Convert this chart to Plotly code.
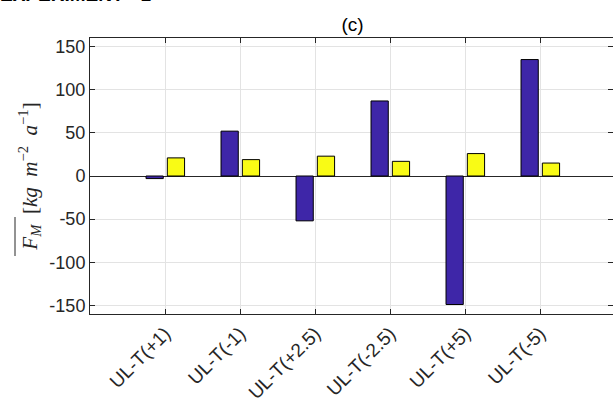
import plotly.graph_objects as go

categories = ["UL-T(+1)", "UL-T(-1)", "UL-T(+2.5)", "UL-T(-2.5)", "UL-T(+5)", "UL-T(-5)"]
series_a = [-3, 52, -52, 87, -149, 135]
series_b = [21, 19, 23, 17, 26, 15]
y_ticks = [-150, -100, -50, 0, 50, 100, 150]
y_tick_labels = [str(v) for v in y_ticks]

x_pos = list(range(1, len(categories) + 1))

W, H = 613, 406
L, R, T, B = 90, 0, 38, 92
pw, ph = W - L - R, H - T - B

fig = go.Figure()
fig.add_trace(go.Bar(x=x_pos, y=series_a, width=0.23, offset=-0.253,
                     marker=dict(color="#3E26A8", line=dict(color="black", width=1)),
                     showlegend=False))
fig.add_trace(go.Bar(x=x_pos, y=series_b, width=0.23, offset=0.031,
                     marker=dict(color="#F9FB15", line=dict(color="black", width=1)),
                     showlegend=False))

axis_col = "#262626"
grid_col = "#e3e3e3"

fig.update_layout(
    width=W, height=H,
    margin=dict(l=L, r=R, t=T, b=B),
    plot_bgcolor="white", paper_bgcolor="white",
    barmode="overlay",
    font=dict(family="Liberation Sans, Arial, sans-serif", size=18, color=axis_col),
    title=dict(text="(c)", x=(L + 262.5) / W, xanchor="center", y=1 - 24 / H, yanchor="middle",
               font=dict(size=19, color="black")),
    xaxis=dict(range=[0, 7 * pw / 525], tickvals=x_pos, ticktext=categories, tickangle=-45,
               showgrid=True, gridcolor=grid_col, gridwidth=1,
               showline=True, linecolor=axis_col, linewidth=1, mirror="ticks",
               ticks="inside", ticklen=5, tickcolor=axis_col,
               tickfont=dict(size=19, color=axis_col), zeroline=False, automargin=False),
    yaxis=dict(range=[-160, 160], tickvals=y_ticks, ticktext=y_tick_labels,
               showgrid=True, gridcolor=grid_col, gridwidth=1,
               showline=True, linecolor=axis_col, linewidth=1, mirror="ticks",
               ticks="inside", ticklen=5, tickcolor=axis_col,
               tickfont=dict(size=18, color=axis_col),
               zeroline=True, zerolinecolor=axis_col, zerolinewidth=1, automargin=False,
               title=dict(text="<i>F</i><sub><i>M</i></sub>  [<i>kg  m</i><sup>\u22122</sup>  <i>a</i><sup>\u22121</sup>]",
                          font=dict(family="Liberation Serif, DejaVu Serif, serif", size=21, color=axis_col),
                          standoff=6)),
)

# overline over F_M (drawn as a thin line next to the rotated title)
fig.add_shape(type="line", xref="paper", yref="paper",
              x0=(15 - L) / pw, x1=(15 - L) / pw,
              y0=(T + ph - 256) / ph, y1=(T + ph - 217) / ph,
              line=dict(color=axis_col, width=1))

fig.add_annotation(text="<b>EXPERIMENT - 1</b>", xref="paper", yref="paper",
                   x=-(L + 2) / pw, xanchor="left", y=1 + (T - 7) / ph, yanchor="bottom",
                   showarrow=False, font=dict(size=19, color="black"))

fig.write_html("out.html", config={"displayModeBar": False},
               post_script="document.body.style.margin='0';")
